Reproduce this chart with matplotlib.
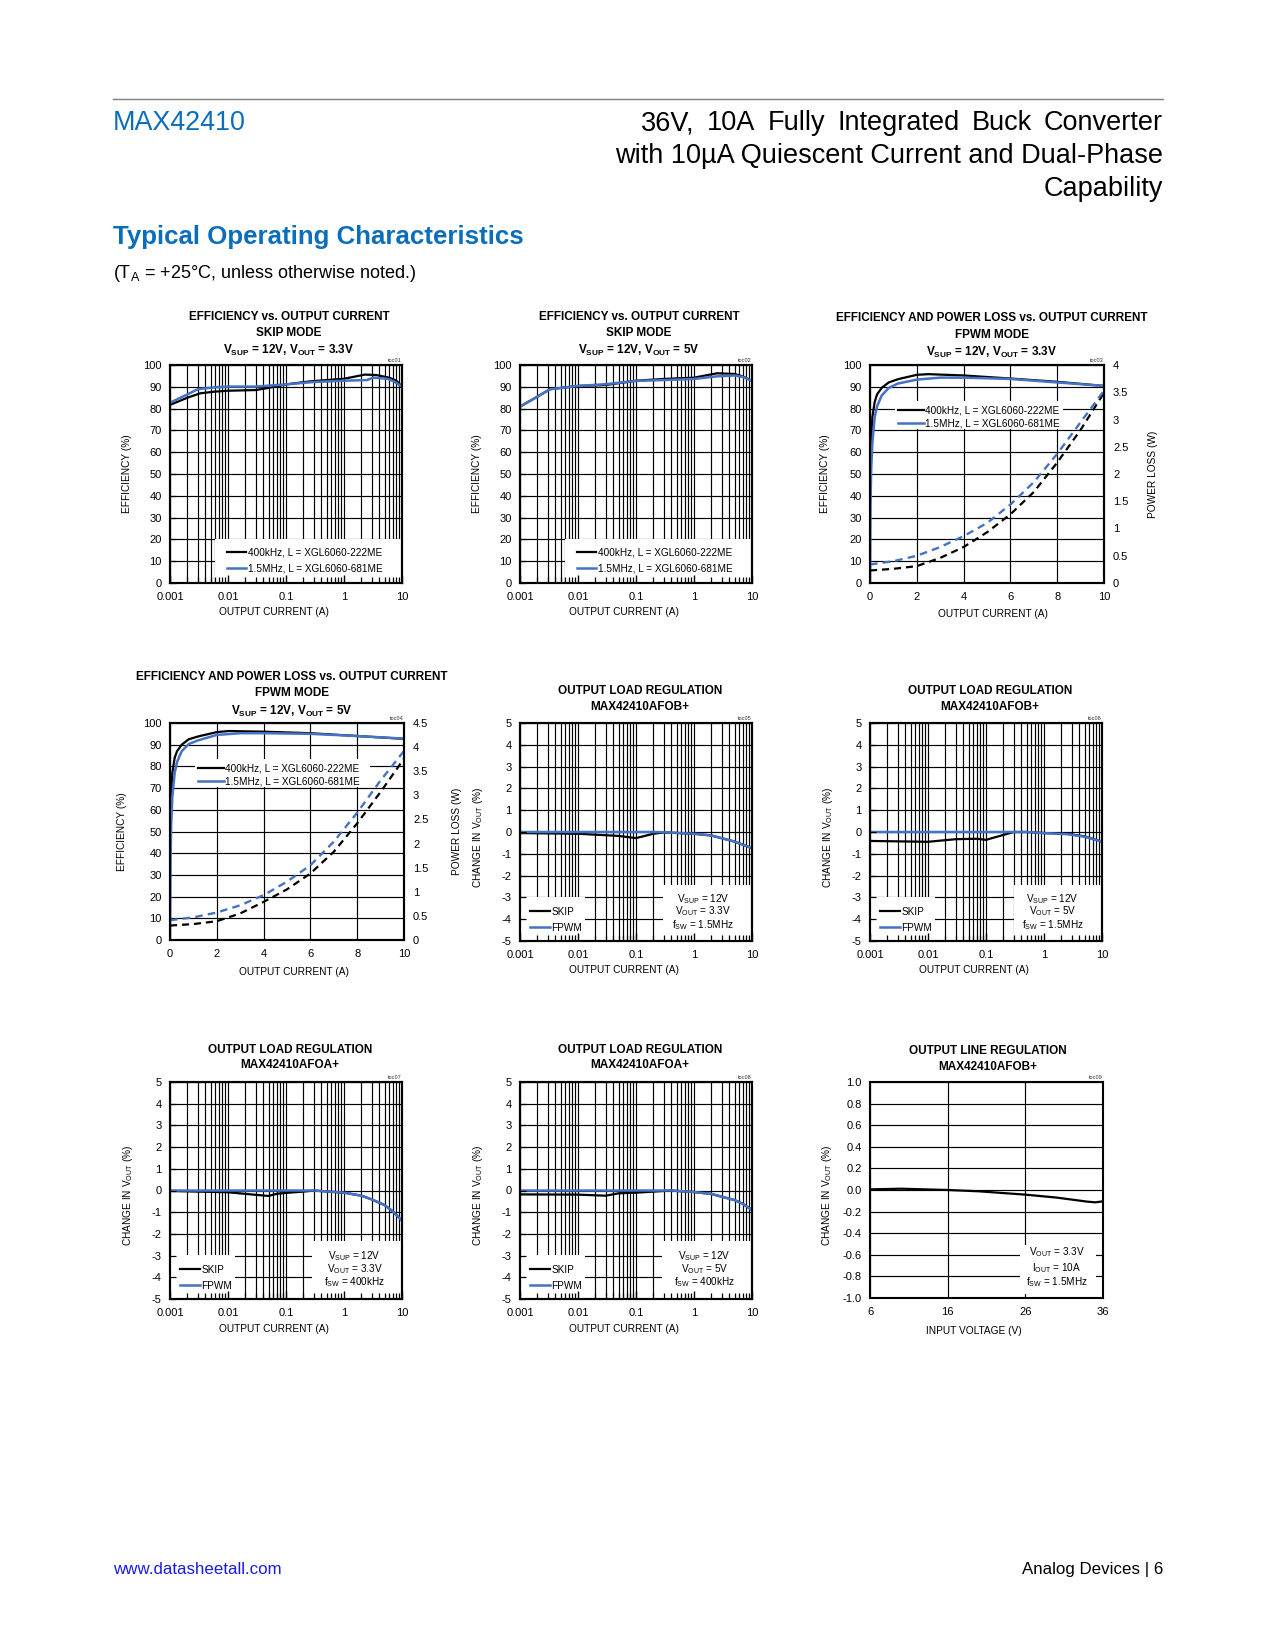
import numpy as np
import matplotlib
matplotlib.use("Agg")
import matplotlib.pyplot as plt
from matplotlib import font_manager as fm
from matplotlib.patches import Rectangle
from matplotlib.lines import Line2D
from matplotlib.ticker import LogLocator, NullFormatter

# ---------------------------------------------------------------- data
LOG_TICKS = [0.001, 0.01, 0.1, 1, 10]
LOG_LABELS = ["0.001", "0.01", "0.1", "1", "10"]
EFF_TICKS = [0, 10, 20, 30, 40, 50, 60, 70, 80, 90, 100]
EFF_LABELS = ["0", "10", "20", "30", "40", "50", "60", "70", "80", "90", "100"]
LIN_TICKS = [0, 2, 4, 6, 8, 10]
LIN_LABELS = ["0", "2", "4", "6", "8", "10"]
LOSS3_TICKS = [0, 0.5, 1, 1.5, 2, 2.5, 3, 3.5, 4]
LOSS3_LABELS = ["0", "0.5", "1", "1.5", "2", "2.5", "3", "3.5", "4"]
LOSS4_TICKS = [0, 0.5, 1, 1.5, 2, 2.5, 3, 3.5, 4, 4.5]
LOSS4_LABELS = ["0", "0.5", "1", "1.5", "2", "2.5", "3", "3.5", "4", "4.5"]
REG_TICKS = [-5, -4, -3, -2, -1, 0, 1, 2, 3, 4, 5]
REG_LABELS = ["-5", "-4", "-3", "-2", "-1", "0", "1", "2", "3", "4", "5"]
LINE_XTICKS = [6, 16, 26, 36]
LINE_XLABELS = ["6", "16", "26", "36"]
LINE_YTICKS = [-1.0, -0.8, -0.6, -0.4, -0.2, 0.0, 0.2, 0.4, 0.6, 0.8, 1.0]
LINE_YLABELS = ["-1.0", "-0.8", "-0.6", "-0.4", "-0.2", "0.0", "0.2", "0.4", "0.6", "0.8", "1.0"]

LEG_EFF = ["400kHz, L = XGL6060-222ME", "1.5MHz, L = XGL6060-681ME"]
LEG_REG = ["SKIP", "FPWM"]

# toc01  efficiency, skip mode, 12V -> 3.3V
T1_X_400 = [0.001, 0.002, 0.0033, 0.006, 0.01, 0.03, 0.05, 0.1, 0.26, 1, 2.3, 3.6, 6, 8, 10]
T1_EFF_400 = [81.7, 85.0, 87.0, 87.8, 88.2, 88.5, 89.5, 91.1, 92.5, 93.7, 95.6, 95.4, 94.2, 92.8, 90.1]
T1_X_15 = [0.001, 0.002, 0.003, 0.006, 0.01, 0.03, 0.1, 0.3, 1, 2.5, 3.2, 5.5, 7, 10]
T1_EFF_15 = [82.7, 86.5, 88.9, 89.8, 90.1, 90.1, 91.1, 92.2, 92.8, 93.1, 94.2, 93.7, 92.7, 90.1]

# toc02  efficiency, skip mode, 12V -> 5V
T2_X = [0.001, 0.002, 0.0033, 0.01, 0.03, 0.1, 0.3, 1, 2.5, 5, 7, 10]
T2_EFF_400 = [80.9, 85.5, 88.9, 90.4, 90.8, 92.8, 93.6, 94.2, 96.2, 95.9, 94.7, 92.8]
T2_EFF_15 = [80.9, 85.5, 88.9, 90.4, 91.2, 92.7, 93.1, 93.6, 94.8, 95.2, 94.5, 92.7]

# toc03  efficiency & power loss, FPWM, 12V -> 3.3V
T3_X_400 = [0.02, 0.05, 0.1, 0.2, 0.3, 0.5, 0.8, 1.2, 2.0, 2.5, 4, 6, 8, 10]
T3_EFF_400 = [50, 66, 76, 83, 86.5, 89.5, 92, 93.5, 95.5, 95.8, 95.2, 93.8, 92.3, 90.4]
T3_X_15 = [0.0, 0.02, 0.05, 0.1, 0.2, 0.3, 0.5, 0.8, 1.2, 2, 3, 4, 6, 8, 10]
T3_EFF_15 = [0, 35, 52, 64, 76, 81, 86, 89.5, 91.5, 93.3, 94.2, 94.2, 93.6, 92.0, 90.4]
T3_X_LOSS = [0, 1, 2, 3, 4, 5, 6, 7, 8, 9, 10]
T3_LOSS_400 = [0.23, 0.26, 0.31, 0.46, 0.66, 0.93, 1.26, 1.67, 2.21, 2.81, 3.49]
T3_LOSS_15 = [0.34, 0.40, 0.50, 0.66, 0.86, 1.10, 1.44, 1.85, 2.37, 2.95, 3.53]

# toc04  efficiency & power loss, FPWM, 12V -> 5V
T4_X_400 = [0.02, 0.05, 0.1, 0.2, 0.3, 0.5, 0.8, 1.2, 2, 2.5, 4, 6, 8, 10]
T4_EFF_400 = [50, 66, 77, 84, 87, 90, 92.5, 93.8, 95.8, 96.3, 96.0, 95.3, 94.0, 92.7]
T4_X_15 = [0.0, 0.02, 0.05, 0.1, 0.2, 0.3, 0.5, 0.8, 1.2, 2, 3, 4, 6, 8, 10]
T4_EFF_15 = [0, 35, 53, 66, 77, 82, 87, 90.3, 92, 94.5, 95.3, 95.3, 95.0, 94.0, 92.8]
T4_X_LOSS = [0, 1, 2, 3, 4, 5, 6, 7, 8, 9, 10]
T4_LOSS_400 = [0.30, 0.33, 0.39, 0.55, 0.79, 1.05, 1.38, 1.83, 2.42, 3.07, 3.76]
T4_LOSS_15 = [0.41, 0.47, 0.57, 0.72, 0.93, 1.21, 1.55, 2.04, 2.64, 3.31, 3.92]

# toc05  load regulation AFOB+, 3.3V, 1.5MHz
T5_X = [0.001, 0.01, 0.05, 0.1, 0.2, 0.3, 1, 2, 5, 10]
T5_SKIP = [-0.05, -0.08, -0.18, -0.28, -0.08, -0.02, -0.08, -0.16, -0.44, -0.74]
T5_FPWM = [0, 0, 0, 0, 0, -0.01, -0.08, -0.16, -0.44, -0.74]

# toc06  load regulation AFOB+, 5V, 1.5MHz
T6_X = [0.001, 0.01, 0.03, 0.07, 0.1, 0.3, 0.5, 1, 2.5, 5, 10]
T6_SKIP = [-0.41, -0.45, -0.33, -0.31, -0.36, 0, 0, -0.05, -0.08, -0.20, -0.44]
T6_FPWM = [0, 0, 0, 0, 0, 0, 0, -0.05, -0.10, -0.22, -0.44]

# toc07  load regulation AFOA+, 3.3V, 400kHz
T7_X = [0.001, 0.01, 0.03, 0.05, 0.07, 0.1, 0.2, 0.3, 1, 2, 3, 5, 7, 10]
T7_SKIP = [-0.02, -0.08, -0.20, -0.25, -0.15, -0.11, -0.05, 0, -0.10, -0.24, -0.41, -0.67, -0.97, -1.39]
T7_FPWM = [0, 0, 0, 0, 0, 0, 0, 0, -0.10, -0.24, -0.41, -0.67, -0.97, -1.39]

# toc08  load regulation AFOA+, 5V, 400kHz
T8_X = [0.001, 0.01, 0.03, 0.05, 0.1, 0.2, 0.4, 1, 2, 5, 7, 10]
T8_SKIP = [-0.18, -0.19, -0.24, -0.13, -0.10, -0.05, 0, -0.07, -0.16, -0.44, -0.62, -0.90]
T8_FPWM = [0, 0, 0, 0, 0, 0, 0, -0.07, -0.16, -0.44, -0.62, -0.90]

# toc09  line regulation
T9_VIN = [6, 10, 16, 20, 26, 30, 34, 35, 36]
T9_DV = [0.006, 0.012, 0.0, -0.012, -0.043, -0.070, -0.108, -0.114, -0.105]

# ---------------------------------------------------------------- fonts
avail = {f.name for f in fm.fontManager.ttflist}
HAS_NARROW = "Liberation Sans Narrow" in avail
FN = "Liberation Sans Narrow" if HAS_NARROW else "Liberation Sans"
K = 1.0 if HAS_NARROW else 0.84
FR = "Liberation Sans"

plt.rcParams.update({
    "font.family": [FN, "DejaVu Sans"],
    "mathtext.fontset": "custom",
    "mathtext.rm": FN,
    "mathtext.it": FN + ":italic",
    "mathtext.bf": FN + ":bold",
    "mathtext.sf": FN,
    "axes.unicode_minus": False,
})

TICK = 9.5 * K
LEG = 8.6 * K
LABEL = 8.7 * K
TITLE = 10.1 * K
TOC = 4.8 * K
SPINE_LW = 1.5
GRID_LW = 0.85
BLK = "#000000"
BLU = "#4472c4"
HBLUE = "#0a6ebd"

W, H = 1275, 1650
fig = plt.figure(figsize=(W / 100, H / 100), dpi=100)


def fx(x):
    return x / W


def fy(y):
    return 1 - y / H


def make_ax(r):
    x0, y0, x1, y1 = r
    return fig.add_axes([x0 / W, 1 - y1 / H, (x1 - x0) / W, (y1 - y0) / H])


def style_base(ax):
    ax.set_axisbelow(True)
    ax.grid(True, which="both", color="black", lw=GRID_LW)
    ax.tick_params(which="both", length=0, labelsize=TICK)
    ax.tick_params(axis="x", pad=6.5)
    ax.tick_params(axis="y", pad=6)
    for s in ax.spines.values():
        s.set_linewidth(SPINE_LW)


def add_overlay(ax):
    ov = fig.add_axes(ax.get_position(), sharex=ax, sharey=ax)
    ov.patch.set_visible(False)
    ov.set_zorder(ax.get_zorder() + 1)
    ov.grid(False)
    ov.tick_params(which="both", direction="in", labelbottom=False,
                   labelleft=False, top=False, right=False)
    ov.tick_params(axis="x", which="major", length=6, width=1)
    ov.tick_params(axis="x", which="minor", length=4.5, width=0.9)
    ov.tick_params(axis="y", which="major", length=4, width=0.9)
    for s in ov.spines.values():
        s.set_linewidth(SPINE_LW)
    return ov


def setup_log(ax, ylim, yt, yl):
    ax.set_xscale("log")
    ax.set_xlim(1e-3, 10)
    ax.set_xticks(LOG_TICKS, LOG_LABELS)
    ax.xaxis.set_minor_locator(LogLocator(base=10, subs=np.arange(2, 10)))
    ax.xaxis.set_minor_formatter(NullFormatter())
    ax.set_ylim(*ylim)
    ax.set_yticks(yt, yl)
    style_base(ax)


def white_box(ax, x0, y0, x1, y1):
    ax.add_patch(Rectangle((x0, y0), x1 - x0, y1 - y0, transform=ax.transAxes,
                           fc="white", ec="none", zorder=1))


def titles(cx, ys, lines):
    for y, s in zip(ys, lines):
        fig.text(fx(cx), fy(y), s, ha="center", va="center",
                 fontsize=TITLE, fontweight="bold")


def toc(ax_right, ax_top, s):
    fig.text(fx(ax_right), fy(ax_top - 2), s, ha="right", va="bottom",
             fontsize=TOC, color="#333333")


def ylab(x, yc, s):
    fig.text(fx(x), fy(yc), s, rotation=90, ha="center", va="center", fontsize=LABEL)


def xlab(xc, y, s):
    fig.text(fx(xc), fy(y), s, ha="center", va="center", fontsize=LABEL)


def legend_at(ax, handles, labels, x, y, hl, ls):
    ax.legend(handles, labels, loc="lower left", bbox_to_anchor=(x, y),
              bbox_transform=ax.transAxes, frameon=False, fontsize=LEG,
              handlelength=hl, handletextpad=0.12, labelspacing=ls,
              borderaxespad=0, borderpad=0)


# ---------------------------------------------------------------- efficiency (log) panels
def eff_log(rect, x4, y4, x15, y15, tlines, tcx, tys, tocname, ylx, xlc, xly):
    ax = make_ax(rect)
    setup_log(ax, (0, 100), EFF_TICKS, EFF_LABELS)
    white_box(ax, 0.194, 0.0, 1.0, 0.2)
    l1, = ax.plot(x4, y4, color=BLK, lw=1.6, zorder=3)
    l2, = ax.plot(x15, y15, color=BLU, lw=1.8, zorder=3)
    legend_at(ax, [l1, l2], LEG_EFF, 0.245, 0.042, 1.95, 0.62)
    add_overlay(ax)
    titles(tcx, tys, tlines)
    toc(rect[2], rect[1], tocname)
    ylab(ylx, (rect[1] + rect[3]) / 2, "EFFICIENCY (%)")
    xlab(xlc, xly, "OUTPUT CURRENT (A)")
    return ax


eff_log((170, 365, 402, 583), T1_X_400, T1_EFF_400, T1_X_15, T1_EFF_15,
        ["EFFICIENCY vs. OUTPUT CURRENT", "SKIP MODE",
         r"V$_\mathbf{SUP}$ = 12V, V$_\mathbf{OUT}$ = 3.3V"],
        289, (316.5, 333, 350), "toc01", 127, 274, 612)
eff_log((520, 365, 752, 583), T2_X, T2_EFF_400, T2_X, T2_EFF_15,
        ["EFFICIENCY vs. OUTPUT CURRENT", "SKIP MODE",
         r"V$_\mathbf{SUP}$ = 12V, V$_\mathbf{OUT}$ = 5V"],
        639, (316.5, 333, 350), "toc02", 477, 624, 612)


# ---------------------------------------------------------------- efficiency + loss (linear)
def eff_lin(rect, x4, y4, x15, y15, xl, l4, l15, lt, ltl, lmax, tlines, tcx, tys,
            tocname, ylx, yrx, xlc, xly, legy, box):
    ax = make_ax(rect)
    ax.set_xlim(0, 10)
    ax.set_ylim(0, 100)
    ax.set_xticks(LIN_TICKS, LIN_LABELS)
    ax.set_yticks(EFF_TICKS, EFF_LABELS)
    style_base(ax)
    white_box(ax, *box)
    l1, = ax.plot(x4, y4, color=BLK, lw=1.6, zorder=3)
    l2, = ax.plot(x15, y15, color=BLU, lw=1.8, zorder=3)
    legend_at(ax, [l1, l2], LEG_EFF, 0.118, legy, 2.6, 0.3)
    tw = ax.twinx()
    tw.set_ylim(0, lmax)
    tw.set_yticks(lt, ltl)
    tw.tick_params(length=0, labelsize=TICK, pad=6.5)
    for s in tw.spines.values():
        s.set_linewidth(SPINE_LW)
    tw.plot(xl, l4, color=BLK, lw=1.6, ls=(0, (3.2, 2.2)))
    tw.plot(xl, l15, color=BLU, lw=1.7, ls=(0, (3.2, 2.2)))
    titles(tcx, tys, tlines)
    toc(rect[2], rect[1], tocname)
    ylab(ylx, (rect[1] + rect[3]) / 2, "EFFICIENCY (%)")
    ylab(yrx, (rect[1] + rect[3]) / 2, "POWER LOSS (W)")
    xlab(xlc, xly, "OUTPUT CURRENT (A)")


eff_lin((870, 365, 1104, 583), T3_X_400, T3_EFF_400, T3_X_15, T3_EFF_15,
        T3_X_LOSS, T3_LOSS_400, T3_LOSS_15, LOSS3_TICKS, LOSS3_LABELS, 4,
        ["EFFICIENCY AND POWER LOSS vs. OUTPUT CURRENT", "FPWM MODE",
         r"V$_\mathbf{SUP}$ = 12V, V$_\mathbf{OUT}$ = 3.3V"],
        992, (318, 334.5, 352), "toc03", 825, 1153, 993, 614,
        0.708, (0.107, 0.705, 0.825, 0.835))
eff_lin((170, 723, 404, 940), T4_X_400, T4_EFF_400, T4_X_15, T4_EFF_15,
        T4_X_LOSS, T4_LOSS_400, T4_LOSS_15, LOSS4_TICKS, LOSS4_LABELS, 4.5,
        ["EFFICIENCY AND POWER LOSS vs. OUTPUT CURRENT", "FPWM MODE",
         r"V$_\mathbf{SUP}$ = 12V, V$_\mathbf{OUT}$ = 5V"],
        292, (677, 693.5, 711), "toc04", 122, 457, 294, 972,
        0.708, (0.107, 0.705, 0.855, 0.835))


# ---------------------------------------------------------------- load regulation
def load_reg(rect, x, skip, fpwm, tlines, tcx, tys, tocname, ylx, xlc, xly,
             info, box_x, box_top, leg_top, info_cx, info_ys):
    ax = make_ax(rect)
    setup_log(ax, (-5, 5), REG_TICKS, REG_LABELS)
    white_box(ax, 0.0, 0.0, 0.28, leg_top)
    white_box(ax, box_x, 0.0, 1.0, box_top)
    l1, = ax.plot(x, skip, color=BLK, lw=1.6, zorder=3)
    l2, = ax.plot(x, fpwm, color=BLU, lw=1.8, zorder=3)
    legend_at(ax, [l1, l2], LEG_REG, 0.045, 0.038, 1.95, 0.6)
    for s, yy in zip(info, info_ys):
        ax.text(info_cx, yy, s, transform=ax.transAxes, ha="center",
                va="center", fontsize=LEG, zorder=4)
    add_overlay(ax)
    titles(tcx, tys, tlines)
    toc(rect[2], rect[1], tocname)
    ylab(ylx, (rect[1] + rect[3]) / 2 + 5, r"CHANGE IN V$_\mathrm{OUT}$ (%)")
    xlab(xlc, xly, "OUTPUT CURRENT (A)")


load_reg((520, 723, 752, 941), T5_X, T5_SKIP, T5_FPWM,
         ["OUTPUT LOAD REGULATION", "MAX42410AFOB+"], 640, (691.5, 707.5), "toc05",
         478, 624, 970,
         [r"V$_\mathrm{SUP}$ = 12V", r"V$_\mathrm{OUT}$ = 3.3V", r"f$_\mathrm{SW}$ = 1.5MHz"],
         0.615, 0.257, 0.204, 0.79, (0.19, 0.135, 0.072))
load_reg((870, 723, 1102, 941), T6_X, T6_SKIP, T6_FPWM,
         ["OUTPUT LOAD REGULATION", "MAX42410AFOB+"], 990, (691.5, 707.5), "toc06",
         828, 974, 970,
         [r"V$_\mathrm{SUP}$ = 12V", r"V$_\mathrm{OUT}$ = 5V", r"f$_\mathrm{SW}$ = 1.5MHz"],
         0.619, 0.257, 0.204, 0.787, (0.19, 0.135, 0.072))
load_reg((170, 1082, 402, 1299), T7_X, T7_SKIP, T7_FPWM,
         ["OUTPUT LOAD REGULATION", "MAX42410AFOA+"], 290, (1050, 1065.5), "toc07",
         128, 274, 1329,
         [r"V$_\mathrm{SUP}$ = 12V", r"V$_\mathrm{OUT}$ = 3.3V", r"f$_\mathrm{SW}$ = 400kHz"],
         0.614, 0.265, 0.204, 0.796, (0.196, 0.14, 0.077))
load_reg((520, 1082, 752, 1299), T8_X, T8_SKIP, T8_FPWM,
         ["OUTPUT LOAD REGULATION", "MAX42410AFOA+"], 640, (1050, 1065.5), "toc08",
         478, 624, 1329,
         [r"V$_\mathrm{SUP}$ = 12V", r"V$_\mathrm{OUT}$ = 5V", r"f$_\mathrm{SW}$ = 400kHz"],
         0.614, 0.265, 0.204, 0.796, (0.196, 0.14, 0.077))

# ---------------------------------------------------------------- line regulation
ax9 = make_ax((870, 1082, 1103, 1298))
ax9.set_xlim(6, 36)
ax9.set_ylim(-1.0, 1.0)
ax9.set_xticks(LINE_XTICKS, LINE_XLABELS)
ax9.set_yticks(LINE_YTICKS, LINE_YLABELS)
style_base(ax9)
white_box(ax9, 0.643, 0.02, 0.971, 0.245)
ax9.plot(T9_VIN, T9_DV, color=BLK, lw=1.6, zorder=3)
for s, yy in zip([r"V$_\mathrm{OUT}$ = 3.3V", r"I$_\mathrm{OUT}$ = 10A", r"f$_\mathrm{SW}$ = 1.5MHz"],
                 (0.2125, 0.14, 0.075)):
    ax9.text(0.8, yy, s, transform=ax9.transAxes, ha="center", va="center",
             fontsize=LEG, zorder=4)
titles(988, (1051.5, 1067), ["OUTPUT LINE REGULATION", "MAX42410AFOB+"])
toc(1103, 1082, "toc09")
ylab(827, 1195, r"CHANGE IN V$_\mathrm{OUT}$ (%)")
xlab(974, 1331, "INPUT VOLTAGE (V)")

# ---------------------------------------------------------------- page header / footer
fig.add_artist(Line2D([fx(113), fx(1163)], [fy(99), fy(99)], color="#7f7f7f", lw=1.0))
fig.text(fx(113), fy(130.5), "MAX42410", color=HBLUE, fontsize=19.4,
         family=FR, va="baseline", ha="left")

HDR1 = "36V, 10A Fully Integrated Buck Converter"
HDR2 = "with 10\u00b5A Quiescent Current and Dual-Phase"
HDR3 = "Capability"
fig.text(fx(1163), fy(163), HDR2, fontsize=19.5, family=FR, va="baseline", ha="right")
fig.text(fx(1163), fy(195.5), HDR3, fontsize=19.5, family=FR, va="baseline", ha="right")
renderer = fig.canvas.get_renderer()
target_w = 522.0
words = HDR1.split()
tmp = [fig.text(0, 0, w_, fontsize=19.5, family=FR) for w_ in words]
widths = [t.get_window_extent(renderer).width for t in tmp]
for t in tmp:
    t.remove()
gap = (target_w - sum(widths)) / (len(words) - 1)
xcur = 1163 - target_w
for w_, wd in zip(words, widths):
    fig.text(fx(xcur), fy(130.5), w_, fontsize=19.5, family=FR, va="baseline", ha="left")
    xcur += wd + gap

fig.text(fx(113), fy(244.3), "Typical Operating Characteristics", color=HBLUE,
         fontsize=18.6, fontweight="bold", family=FR, va="baseline", ha="left")
fig.text(fx(113), fy(278.5), r"(T$_\mathregular{A}$ = +25°C, unless otherwise noted.)",
         fontsize=13, family=FR, va="baseline", ha="left")
fig.text(fx(113), fy(1574), "www.datasheetall.com", color="#1a1ae6", fontsize=12.2,
         family=FR, va="baseline", ha="left")
fig.text(fx(1163), fy(1574), "Analog Devices | 6", fontsize=12.2, family=FR,
         va="baseline", ha="right")

fig.savefig("out.png", dpi=100)
